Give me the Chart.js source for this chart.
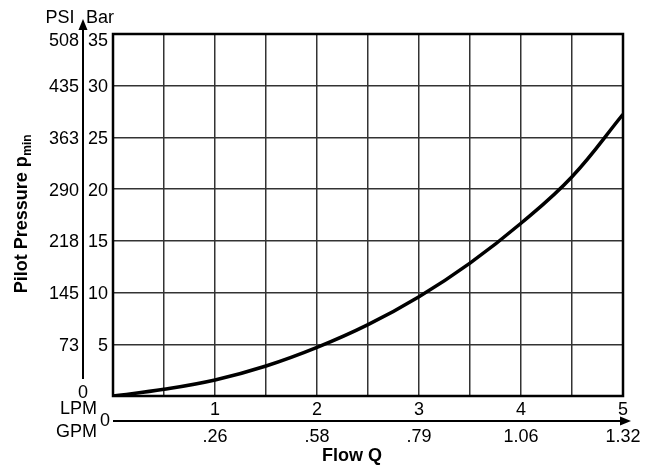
<!DOCTYPE html>
<html><head><meta charset="utf-8">
<script src="https://cdn.jsdelivr.net/npm/chart.js"></script>
<style>html,body{margin:0;padding:0;background:#fff;overflow:hidden}</style>
</head><body>
<canvas id="c" width="647" height="472" style="width:647px;height:472px;display:block"></canvas>
<script>
const flowLPM = [0, 0.5, 1, 1.5, 2, 2.5, 3, 3.5, 4, 4.5, 5];
const pressureBar = [0, 0.65, 1.55, 2.9, 4.7, 6.9, 9.6, 12.85, 16.7, 21.2, 27.24];
const barTicks = [5, 10, 15, 20, 25, 30, 35];
const psiTicks = ['73', '145', '218', '290', '363', '435', '508'];
const lpmTicks = [1, 2, 3, 4, 5];
const gpmTicks = ['.26', '.58', '.79', '1.06', '1.32'];

const FONT = '"Liberation Sans", Arial, Helvetica, sans-serif';

const labelsPlugin = {
  id: 'labels',
  afterDraw(chart) {
    const ctx = chart.ctx;
    const xs = chart.scales.x, ys = chart.scales.y;
    const ca = chart.chartArea;
    ctx.save();
    ctx.strokeStyle = '#000';
    ctx.lineWidth = 2.5;
    ctx.strokeRect(ca.left, ca.top, ca.right - ca.left, ca.bottom - ca.top);

    ctx.fillStyle = '#000';
    ctx.font = '18px ' + FONT;
    ctx.textBaseline = 'middle';
    barTicks.forEach((v, i) => {
      let y = ys.getPixelForValue(v) + 1.5;
      if (v === 35) y += 6;
      ctx.textAlign = 'right';
      ctx.fillText(String(v), ca.left - 5, y);
      ctx.fillText(psiTicks[i], 79, y);
    });
    const ax = 83;
    ctx.strokeStyle = '#000';
    ctx.lineWidth = 2;
    ctx.beginPath();
    ctx.moveTo(ax, 27);
    ctx.lineTo(ax, ys.getPixelForValue(0) - 17);
    ctx.stroke();
    ctx.beginPath();
    ctx.moveTo(ax, 19);
    ctx.lineTo(ax - 4.5, 30);
    ctx.lineTo(ax + 4.5, 30);
    ctx.closePath();
    ctx.fill();
    ctx.textAlign = 'center';
    ctx.fillText('0', ax, ys.getPixelForValue(0) - 3);
    ctx.fillText('PSI', 60, 18);
    ctx.fillText('Bar', 100, 18);

    const rowL = ys.getPixelForValue(0) + 14;
    lpmTicks.forEach(v => {
      ctx.textAlign = 'center';
      ctx.fillText(String(v), xs.getPixelForValue(v), rowL);
    });
    ctx.textAlign = 'right';
    ctx.fillText('LPM', 97, rowL - 1);

    const gy = ys.getPixelForValue(0) + 25;
    ctx.lineWidth = 2;
    ctx.beginPath();
    ctx.moveTo(ca.left, gy);
    ctx.lineTo(ca.right + 1, gy);
    ctx.stroke();
    ctx.beginPath();
    ctx.moveTo(ca.right + 8, gy);
    ctx.lineTo(ca.right - 3, gy - 4.5);
    ctx.lineTo(ca.right - 3, gy + 4.5);
    ctx.closePath();
    ctx.fill();
    ctx.textAlign = 'center';
    ctx.fillText('0', ca.left - 8, gy);
    const rowG = gy + 16;
    lpmTicks.forEach((v, i) => {
      ctx.fillText(gpmTicks[i], xs.getPixelForValue(v), rowG);
    });
    ctx.textAlign = 'right';
    ctx.fillText('GPM', 97, rowG - 5);

    ctx.font = 'bold 18px ' + FONT;
    ctx.textAlign = 'center';
    ctx.fillText('Flow Q', 352, 456);

    ctx.translate(21, 0);
    ctx.rotate(-Math.PI / 2);
    const main = 'Pilot Pressure p';
    ctx.font = 'bold 18px ' + FONT;
    const w1 = ctx.measureText(main).width;
    ctx.font = 'bold 12px ' + FONT;
    const w2 = ctx.measureText('min').width;
    const total = w1 + w2;
    const cy = 214;
    const start = -(cy + total / 2);
    ctx.textAlign = 'left';
    ctx.textBaseline = 'alphabetic';
    ctx.font = 'bold 18px ' + FONT;
    ctx.fillText(main, start, 6);
    ctx.font = 'bold 12px ' + FONT;
    ctx.fillText('min', start + w1 + 0.5, 10);
    ctx.restore();
  }
};

new Chart(document.getElementById('c'), {
  type: 'scatter',
  data: {
    datasets: [{
      data: flowLPM.map((x, i) => ({ x: x, y: pressureBar[i] })),
      showLine: true,
      borderColor: '#000',
      borderWidth: 3.5,
      pointRadius: 0,
      tension: 0.4,
      fill: false
    }]
  },
  options: {
    responsive: false,
    animation: false,
    devicePixelRatio: 1,
    layout: { padding: { left: 113, right: 24, top: 34, bottom: 76 } },
    plugins: { legend: { display: false }, tooltip: { enabled: false } },
    scales: {
      x: {
        type: 'linear', min: 0, max: 5,
        ticks: { display: false, stepSize: 0.5 },
        grid: { color: '#333', lineWidth: 1.5, drawTicks: false },
        border: { display: false }
      },
      y: {
        type: 'linear', min: 0, max: 35,
        ticks: { display: false, stepSize: 5 },
        grid: { color: '#333', lineWidth: 1.5, drawTicks: false },
        border: { display: false }
      }
    }
  },
  plugins: [labelsPlugin]
});
</script>
</body></html>
